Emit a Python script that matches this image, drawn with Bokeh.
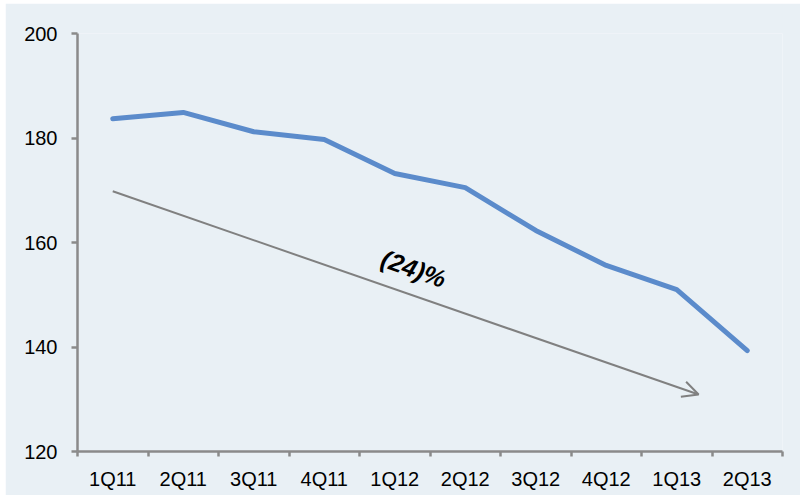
from bokeh.plotting import figure
from bokeh.models import FixedTicker, Arrow, OpenHead, Range1d
from bokeh.core.properties import value
from bokeh.embed import file_html
from bokeh.resources import INLINE

quarters = ["1Q11", "2Q11", "3Q11", "4Q11", "1Q12", "2Q12", "3Q12", "4Q12", "1Q13", "2Q13"]
values = [183.7, 184.9, 181.2, 179.7, 173.2, 170.5, 162.3, 155.6, 151.0, 139.3]
y_ticks = [120, 140, 160, 180, 200]
trend_label = "(24)%"
trend_start = (0.5, 169.8)
trend_end = (8.81, 130.9)
label_pos = (4.77, 155.0)

BG = "#E9F0F5"
AXIS = "#8A8A8A"
FONT = "Liberation Sans"

xs = [i + 0.5 for i in range(len(quarters))]

p = figure(width=795, height=492, output_backend="svg", toolbar_location=None,
           x_range=Range1d(0, len(quarters)), y_range=Range1d(120, 200),
           background_fill_color=BG, border_fill_color=BG,
           min_border_left=72, min_border_top=30, min_border_right=18, min_border_bottom=44)
p.margin = (3, 1, 4, 5)
p.outline_line_color = None
p.grid.visible = False

p.line(xs, values, line_color="#5B8BCB", line_width=5, line_join="round", line_cap="round")

p.add_layout(Arrow(end=OpenHead(size=16, line_color="#808080", line_width=2),
                   x_start=trend_start[0], y_start=trend_start[1],
                   x_end=trend_end[0], y_end=trend_end[1],
                   line_color="#808080", line_width=2))

p.text(x=[label_pos[0]], y=[label_pos[1]], text=[trend_label], angle=-0.34,
       text_align="center", text_baseline="middle", text_font=value(FONT),
       text_font_size="25px", text_font_style="bold italic", text_color="black")

xa = p.xaxis[0]
xa.ticker = FixedTicker(ticks=xs, minor_ticks=list(range(len(quarters) + 1)))
xa.major_label_overrides = {x: q for x, q in zip(xs, quarters)}
xa.major_tick_line_color = None
xa.minor_tick_line_color = AXIS
xa.minor_tick_line_width = 2.5
xa.minor_tick_out = 5
xa.minor_tick_in = 0
xa.major_label_standoff = 10

ya = p.yaxis[0]
ya.ticker = FixedTicker(ticks=y_ticks)
ya.minor_tick_line_color = None
ya.major_tick_line_color = AXIS
ya.major_tick_line_width = 2.5
ya.major_tick_out = 6
ya.major_tick_in = 0
ya.major_label_standoff = 14

for ax in (xa, ya):
    ax.axis_line_color = AXIS
    ax.axis_line_width = 2.5
    ax.major_label_text_font = FONT
    ax.major_label_text_font_size = "20px"
    ax.major_label_text_color = "black"

open("out.html", "w").write(file_html(p, INLINE))
